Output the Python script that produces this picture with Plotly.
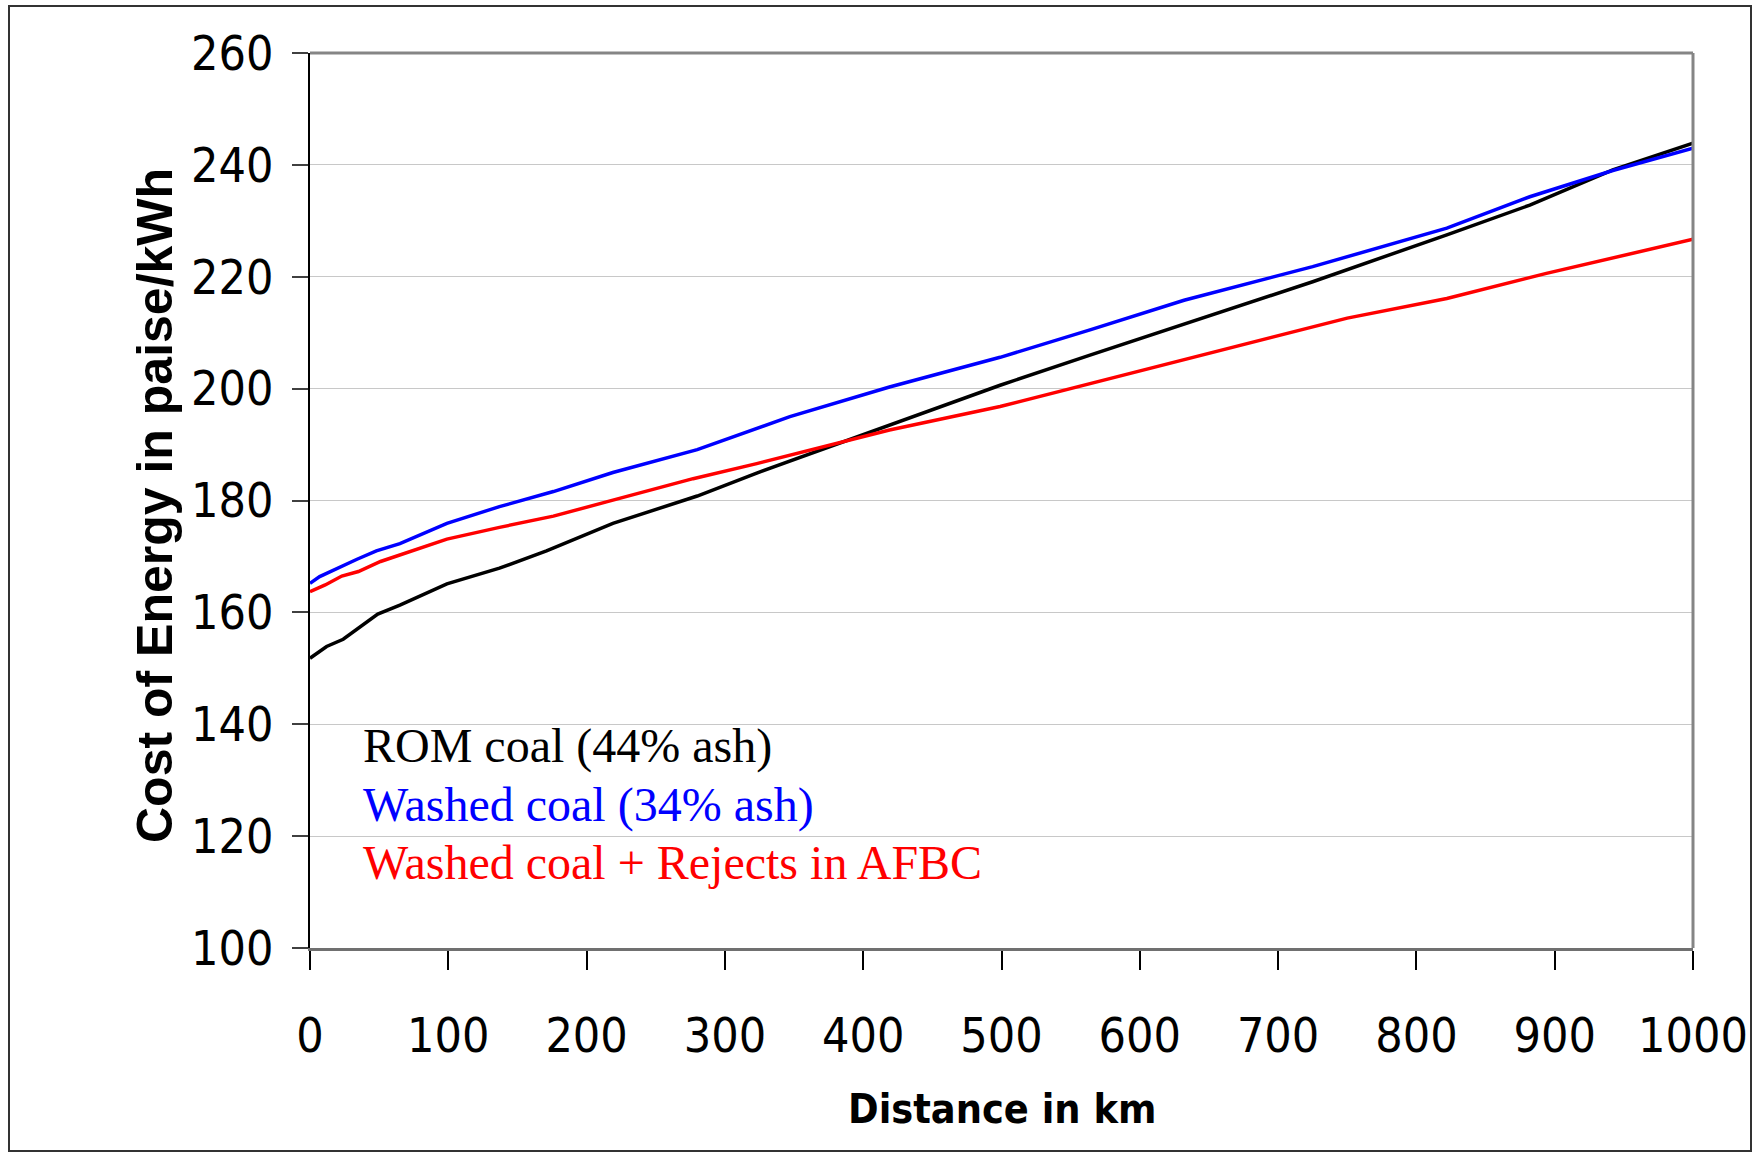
import plotly.graph_objects as go

# Distance (km) and cost of energy (paise/kWh)
rom_x = [0, 12, 24, 36, 49, 65, 99, 137, 171, 219, 280, 323, 376, 419, 467, 499, 564, 632, 725, 822, 882, 942, 1000]
rom_y = [151.8, 153.9, 155.2, 157.4, 159.7, 161.3, 165.1, 167.9, 171.0, 175.9, 180.8, 184.9, 189.6, 193.5, 197.7, 200.6, 206.0, 211.6, 219.1, 227.5, 232.8, 239.1, 243.9]

washed_x = [0, 7, 34, 48, 65, 99, 137, 176, 219, 280, 347, 419, 499, 564, 632, 725, 822, 882, 942, 1000]
washed_y = [165.2, 166.4, 169.5, 171.0, 172.3, 175.9, 178.9, 181.6, 185.0, 189.1, 195.0, 200.3, 205.6, 210.5, 215.8, 221.8, 228.7, 234.3, 239.0, 243.0]

rejects_x = [0, 11, 23, 35, 51, 99, 137, 176, 215, 277, 323, 376, 419, 499, 564, 632, 750, 822, 894, 1000]
rejects_y = [163.7, 164.9, 166.5, 167.3, 169.1, 173.1, 175.2, 177.2, 179.8, 183.9, 186.6, 189.9, 192.6, 196.8, 200.9, 205.2, 212.6, 216.1, 220.6, 226.7]

series_names = ["ROM coal (44% ash)", "Washed coal (34% ash)", "Washed coal + Rejects in AFBC"]
series_colors = ["#000000", "#0000FF", "#FF0000"]

x_ticks = [0, 100, 200, 300, 400, 500, 600, 700, 800, 900, 1000]
y_ticks = [100, 120, 140, 160, 180, 200, 220, 240, 260]

W, H = 1760, 1154
L, R, T, B = 310, 1693, 53, 948

fig = go.Figure()
for xs, ys, name, col in zip([rom_x, washed_x, rejects_x], [rom_y, washed_y, rejects_y], series_names, series_colors):
    fig.add_trace(go.Scatter(x=xs, y=ys, mode="lines", name=name,
                             line=dict(color=col, width=3.5), showlegend=False))

narrow = "Liberation Sans Narrow, Arial Narrow, DejaVu Sans Condensed, Liberation Sans, Arial, sans-serif"

fig.update_layout(
    width=W, height=H,
    margin=dict(l=L, r=W - R, t=T, b=H - B),
    paper_bgcolor="white", plot_bgcolor="white",
    xaxis=dict(range=[0, 1000], tickvals=x_ticks, ticktext=[str(v) for v in x_ticks],
               showgrid=False, zeroline=False, ticks="outside", ticklen=19, tickwidth=1.5,
               tickcolor="#000000", showline=True, linecolor="#707070", linewidth=3,
               ticklabelstandoff=24,
               tickfont=dict(family=narrow, size=48, color="black")),
    yaxis=dict(range=[100, 260], tickvals=y_ticks, ticktext=[str(v) for v in y_ticks],
               showgrid=True, gridcolor="#C8C8C8", gridwidth=1, zeroline=False,
               ticks="outside", ticklen=16, tickwidth=1.5, tickcolor="#404040",
               showline=True, linecolor="#000000", linewidth=2,
               ticklabelstandoff=9,
               tickfont=dict(family=narrow, size=48, color="black")),
)

def px_x(p):
    return (p - L) / (R - L)

def px_y(p):
    return (B - p) / (B - T)

# plot-area border (top & right in gray)
fig.add_shape(type="line", xref="paper", yref="paper", x0=0, x1=1, y0=1, y1=1,
              line=dict(color="#858585", width=3))
fig.add_shape(type="line", xref="paper", yref="paper", x0=1, x1=1, y0=0, y1=1,
              line=dict(color="#858585", width=3))
# outer chart border
fig.add_shape(type="rect", xref="paper", yref="paper",
              x0=px_x(9), x1=px_x(1751), y0=px_y(1151), y1=px_y(6),
              line=dict(color="#333333", width=2), fillcolor="rgba(0,0,0,0)")

# axis titles
fig.add_annotation(xref="paper", yref="paper", x=px_x(1002), y=px_y(1109),
                   text="<b>Distance in km</b>", showarrow=False,
                   font=dict(family=narrow, size=41, color="black"),
                   xanchor="center", yanchor="middle")
fig.add_annotation(xref="paper", yref="paper", x=px_x(155), y=px_y(506),
                   text="<b>Cost of Energy in paise/kWh</b>", showarrow=False, textangle=-90,
                   font=dict(family="Liberation Sans, Arial, sans-serif", size=50, color="black"),
                   xanchor="center", yanchor="middle")

# in-plot labels
label_y = [746, 805, 862]
for name, col, yp in zip(series_names, series_colors, label_y):
    fig.add_annotation(xref="paper", yref="paper", x=px_x(361), y=px_y(yp),
                       text=name, showarrow=False,
                       font=dict(family="Liberation Serif, Times New Roman, serif", size=48, color=col),
                       xanchor="left", yanchor="middle")

fig.write_html("out.html")
